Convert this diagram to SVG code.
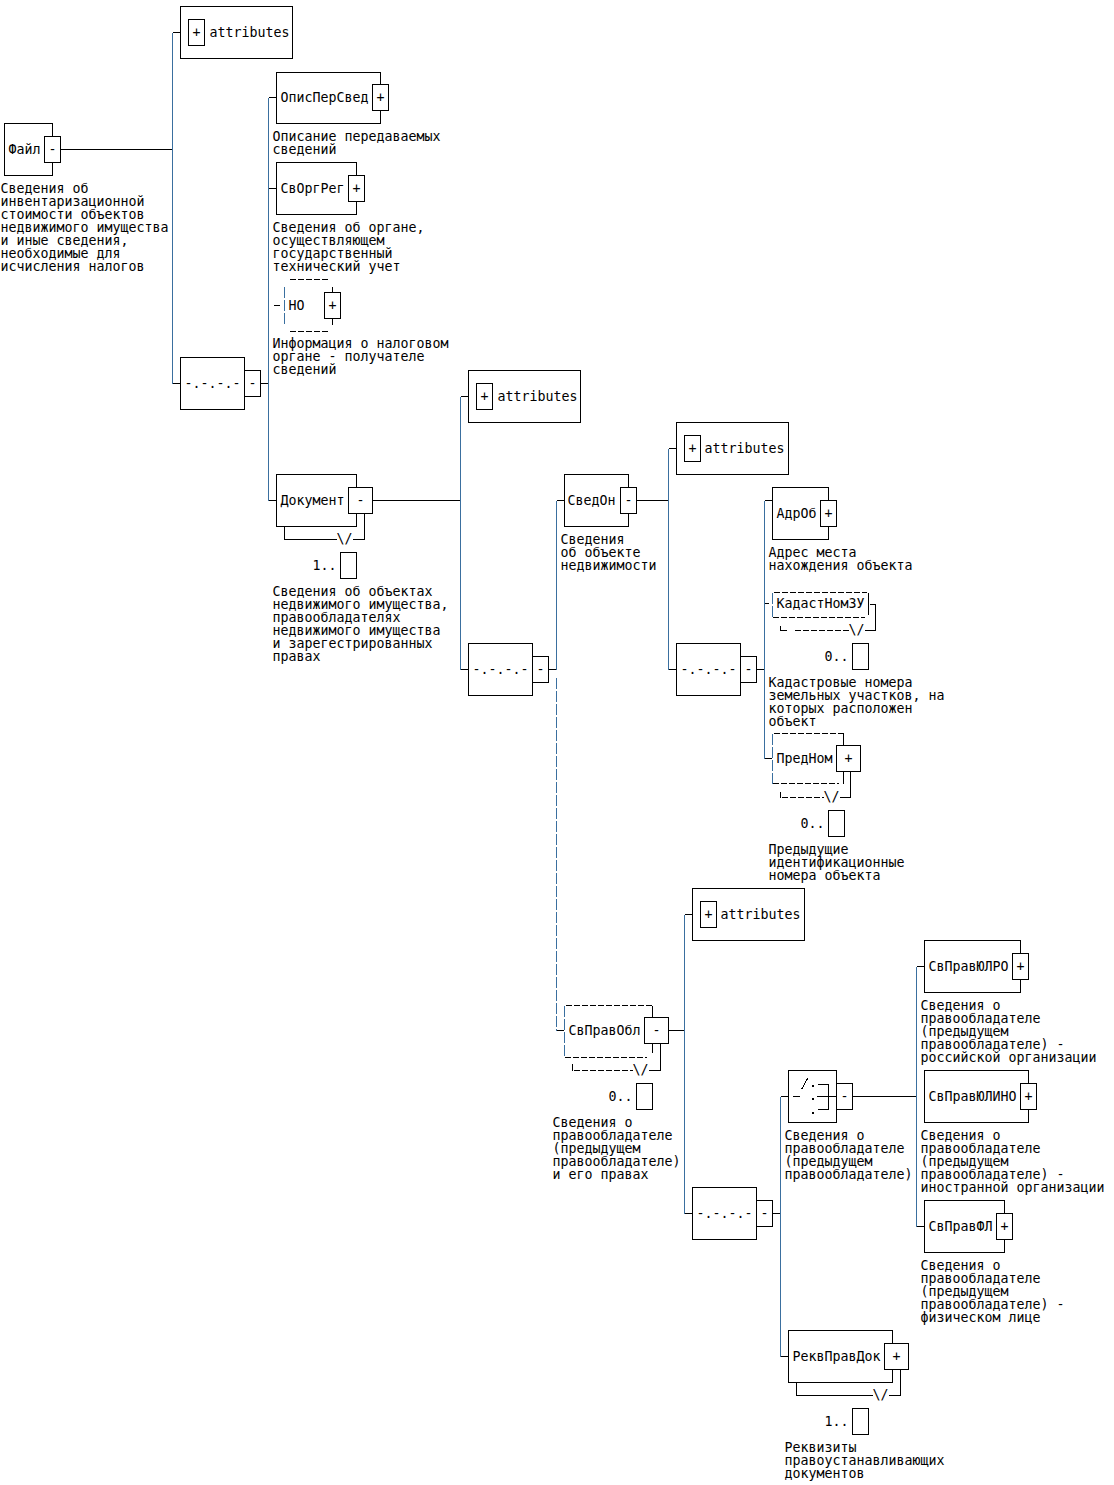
<svg xmlns="http://www.w3.org/2000/svg" width="1114" height="1485" viewBox="0 0 1114 1485">
<style>
.b{fill:#fff;stroke:#000;stroke-width:1}
.l{fill:none;stroke:#000;stroke-width:1}
.v{fill:none;stroke:#3a6f9f;stroke-width:1}
.d{fill:none;stroke:#000;stroke-width:1;stroke-dasharray:6 2}
.dv{fill:none;stroke:#3a6f9f;stroke-width:1;stroke-dasharray:11 2}
text{font-family:"DejaVu Sans Mono","Liberation Mono",monospace;font-size:13.29px;fill:#000}
.m{text-anchor:middle}
</style>
<rect width="1114" height="1485" fill="#fff"/>
<g transform="translate(0.5 0.5)" shape-rendering="crispEdges">
<g id="connectors">
<path class="l" d="M60 149H172M172 32H180M172 383H180"/>
<path class="v" d="M172 32V383"/>
<path class="l" d="M260 383H268M268 97H276M268 188H276M268 500H276M273 305H279"/>
<path class="v" d="M268 97V500"/>
<path class="l" d="M372 500H460M460 396H468M460 669H468"/>
<path class="v" d="M460 396V669"/>
<path class="l" d="M548 669H556M556 500H564M556 1030H563"/>
<path class="v" d="M556 500V669"/>
<path class="dv" d="M556 677V1030"/>
<path class="l" d="M636 500H668M668 448H676M668 669H676"/>
<path class="v" d="M668 448V669"/>
<path class="l" d="M756 669H764M764 500H772M764 603H768M764 758H771"/>
<path class="v" d="M764 500V758"/>
<path class="l" d="M668 1030H684M684 914H692M684 1213H692"/>
<path class="v" d="M684 914V1213"/>
<path class="l" d="M772 1213H780M780 1096H788M780 1356H788"/>
<path class="v" d="M780 1096V1356"/>
<path class="l" d="M852 1096H916M916 966H924M916 1226H924"/>
<path class="v" d="M916 966V1226"/>
</g>
<g id="n-file">
<rect class="b" x="4" y="123" width="48" height="52"/>
<rect class="b" x="44" y="136" width="16" height="26"/>
<text x="8" y="153">Файл</text>
<text class="m" x="52" y="153">-</text>
<text x="0" y="192">Сведения об</text>
<text x="0" y="205">инвентаризационной</text>
<text x="0" y="218">стоимости объектов</text>
<text x="0" y="231">недвижимого имущества</text>
<text x="0" y="244">и иные сведения,</text>
<text x="0" y="257">необходимые для</text>
<text x="0" y="270">исчисления налогов</text>
</g>
<g id="n-attr1">
<rect class="b" x="180" y="6" width="112" height="52"/>
<rect class="b" x="188" y="19" width="16" height="26"/>
<text class="m" x="196" y="36">+</text>
<text x="209" y="36">attributes</text>
</g>
<g id="n-seq1">
<rect class="b" x="180" y="357" width="64" height="52"/>
<rect class="b" x="244" y="370" width="16" height="26"/>
<text x="184" y="387">-.-.-.-</text>
<text class="m" x="252" y="387">-</text>
</g>
<g id="n-opis">
<rect class="b" x="276" y="72" width="104" height="51"/>
<rect class="b" x="372" y="84" width="16" height="26"/>
<text x="280" y="101">ОписПерСвед</text>
<text class="m" x="380" y="101">+</text>
<text x="272" y="140">Описание передаваемых</text>
<text x="272" y="153">сведений</text>
</g>
<g id="n-svorg">
<rect class="b" x="276" y="162" width="80" height="52"/>
<rect class="b" x="348" y="175" width="16" height="26"/>
<text x="280" y="192">СвОргРег</text>
<text class="m" x="356" y="192">+</text>
<text x="272" y="231">Сведения об органе,</text>
<text x="272" y="244">осуществляющем</text>
<text x="272" y="257">государственный</text>
<text x="272" y="270">технический учет</text>
</g>
<g id="n-no">
<path class="d" d="M289 279H327M289 331H327"/>
<path class="dv" d="M284 286V323"/>
<path class="l" d="M332 286V292M332 318V324"/>
<rect class="b" x="324" y="292" width="16" height="26"/>
<text x="288" y="309">НО</text>
<text class="m" x="332" y="309">+</text>
<text x="272" y="347">Информация о налоговом</text>
<text x="272" y="360">органе - получателе</text>
<text x="272" y="373">сведений</text>
</g>
<g id="n-doc">
<rect class="b" x="276" y="474" width="80" height="52"/>
<rect class="b" x="348" y="487" width="24" height="26"/>
<text x="280" y="504">Документ</text>
<text class="m" x="360" y="504">-</text>
<path class="l" d="M284 526V539H336M352 539H364V513"/>
<text x="336" y="542">\/</text>
<text x="312" y="569">1..</text>
<rect class="b" x="340" y="552" width="16" height="26"/>
<text x="272" y="595">Сведения об объектах</text>
<text x="272" y="608">недвижимого имущества,</text>
<text x="272" y="621">правообладателях</text>
<text x="272" y="634">недвижимого имущества</text>
<text x="272" y="647">и зарегестрированных</text>
<text x="272" y="660">правах</text>
</g>
<g id="n-attr2">
<rect class="b" x="468" y="370" width="112" height="52"/>
<rect class="b" x="476" y="383" width="16" height="26"/>
<text class="m" x="484" y="400">+</text>
<text x="497" y="400">attributes</text>
</g>
<g id="n-seq2">
<rect class="b" x="468" y="643" width="64" height="52"/>
<rect class="b" x="532" y="656" width="16" height="26"/>
<text x="472" y="673">-.-.-.-</text>
<text class="m" x="540" y="673">-</text>
</g>
<g id="n-svedon">
<rect class="b" x="564" y="474" width="64" height="52"/>
<rect class="b" x="620" y="487" width="16" height="26"/>
<text x="567" y="504">СведОн</text>
<text class="m" x="628" y="504">-</text>
<text x="560" y="543">Сведения</text>
<text x="560" y="556">об объекте</text>
<text x="560" y="569">недвижимости</text>
</g>
<g id="n-attr3">
<rect class="b" x="676" y="422" width="112" height="52"/>
<rect class="b" x="684" y="435" width="16" height="26"/>
<text class="m" x="692" y="452">+</text>
<text x="704" y="452">attributes</text>
</g>
<g id="n-seq3">
<rect class="b" x="676" y="643" width="64" height="52"/>
<rect class="b" x="740" y="656" width="16" height="26"/>
<text x="680" y="673">-.-.-.-</text>
<text class="m" x="748" y="673">-</text>
</g>
<g id="n-adrob">
<rect class="b" x="772" y="487" width="56" height="52"/>
<rect class="b" x="820" y="500" width="16" height="26"/>
<text x="776" y="517">АдрОб</text>
<text class="m" x="828" y="517">+</text>
<text x="768" y="556">Адрес места</text>
<text x="768" y="569">нахождения объекта</text>
</g>
<g id="n-kadast">
<path class="d" d="M773 592H866M772 617H864M794 630H848"/>
<path class="dv" d="M772 592V617"/>
<path class="l" d="M868 592V614M869 604H875V630H864M780 625V630H786"/>
<text x="776" y="607">КадастНомЗУ</text>
<text x="848" y="633">\/</text>
<text x="824" y="660">0..</text>
<rect class="b" x="852" y="643" width="16" height="26"/>
<text x="768" y="686">Кадастровые номера</text>
<text x="768" y="699">земельных участков, на</text>
<text x="768" y="712">которых расположен</text>
<text x="768" y="725">объект</text>
</g>
<g id="n-prednom">
<path class="d" d="M773 733H843M772 783H838M781 797H823"/>
<path class="dv" d="M772 733V783"/>
<path class="l" d="M843 733V746M843 771V783M780 791V797M839 797H850V771"/>
<rect class="b" x="836" y="745" width="24" height="26"/>
<text x="776" y="762">ПредНом</text>
<text class="m" x="848" y="762">+</text>
<text x="823" y="800">\/</text>
<text x="800" y="827">0..</text>
<rect class="b" x="828" y="810" width="16" height="26"/>
<text x="768" y="853">Предыдущие</text>
<text x="768" y="866">идентификационные</text>
<text x="768" y="879">номера объекта</text>
</g>
<g id="n-attr4">
<rect class="b" x="692" y="888" width="112" height="52"/>
<rect class="b" x="700" y="901" width="16" height="26"/>
<text class="m" x="708" y="918">+</text>
<text x="720" y="918">attributes</text>
</g>
<g id="n-svpravobl">
<path class="d" d="M565 1005H652M564 1057H646M573 1070H632"/>
<path class="dv" d="M564 1005V1057"/>
<path class="l" d="M652 1005V1017M652 1043V1052M572 1063V1070M648 1070H660V1043"/>
<rect class="b" x="644" y="1017" width="24" height="26"/>
<text x="568" y="1034">СвПравОбл</text>
<text class="m" x="656" y="1034">-</text>
<text x="632" y="1073">\/</text>
<text x="608" y="1100">0..</text>
<rect class="b" x="636" y="1083" width="16" height="26"/>
<text x="552" y="1126">Сведения о</text>
<text x="552" y="1139">правообладателе</text>
<text x="552" y="1152">(предыдущем</text>
<text x="552" y="1165">правообладателе)</text>
<text x="552" y="1178">и его правах</text>
</g>
<g id="n-seq4">
<rect class="b" x="692" y="1187" width="64" height="52"/>
<rect class="b" x="756" y="1200" width="16" height="26"/>
<text x="696" y="1217">-.-.-.-</text>
<text class="m" x="764" y="1217">-</text>
</g>
<g id="n-choice">
<rect class="b" x="788" y="1070" width="48" height="52"/>
<rect class="b" x="836" y="1083" width="16" height="26"/>
<text class="m" x="844" y="1100">-</text>
<path class="l" d="M792 1096H799M801 1089L807 1078M816 1096H836M817 1084H828V1109H817"/>
<rect x="811" y="1084" width="2" height="2" fill="#000" stroke="none"/>
<rect x="811" y="1097" width="2" height="2" fill="#000" stroke="none"/>
<rect x="811" y="1111" width="2" height="2" fill="#000" stroke="none"/>
<text x="784" y="1139">Сведения о</text>
<text x="784" y="1152">правообладателе</text>
<text x="784" y="1165">(предыдущем</text>
<text x="784" y="1178">правообладателе)</text>
</g>
<g id="n-yulro">
<rect class="b" x="924" y="940" width="96" height="52"/>
<rect class="b" x="1012" y="953" width="16" height="26"/>
<text x="928" y="970">СвПравЮЛРО</text>
<text class="m" x="1020" y="970">+</text>
<text x="920" y="1009">Сведения о</text>
<text x="920" y="1022">правообладателе</text>
<text x="920" y="1035">(предыдущем</text>
<text x="920" y="1048">правообладателе) -</text>
<text x="920" y="1061">российской организации</text>
</g>
<g id="n-yulino">
<rect class="b" x="924" y="1070" width="104" height="52"/>
<rect class="b" x="1020" y="1083" width="16" height="26"/>
<text x="928" y="1100">СвПравЮЛИНО</text>
<text class="m" x="1028" y="1100">+</text>
<text x="920" y="1139">Сведения о</text>
<text x="920" y="1152">правообладателе</text>
<text x="920" y="1165">(предыдущем</text>
<text x="920" y="1178">правообладателе) -</text>
<text x="920" y="1191">иностранной организации</text>
</g>
<g id="n-fl">
<rect class="b" x="924" y="1200" width="80" height="52"/>
<rect class="b" x="996" y="1213" width="16" height="26"/>
<text x="928" y="1230">СвПравФЛ</text>
<text class="m" x="1004" y="1230">+</text>
<text x="920" y="1269">Сведения о</text>
<text x="920" y="1282">правообладателе</text>
<text x="920" y="1295">(предыдущем</text>
<text x="920" y="1308">правообладателе) -</text>
<text x="920" y="1321">физическом лице</text>
</g>
<g id="n-rekv">
<rect class="b" x="788" y="1330" width="104" height="52"/>
<rect class="b" x="884" y="1343" width="24" height="26"/>
<text x="792" y="1360">РеквПравДок</text>
<text class="m" x="896" y="1360">+</text>
<path class="l" d="M796 1382V1395H872M888 1395H900V1369"/>
<text x="872" y="1398">\/</text>
<text x="824" y="1425">1..</text>
<rect class="b" x="852" y="1408" width="16" height="26"/>
<text x="784" y="1451">Реквизиты</text>
<text x="784" y="1464">правоустанавливающих</text>
<text x="784" y="1477">документов</text>
</g>
</g>
</svg>
